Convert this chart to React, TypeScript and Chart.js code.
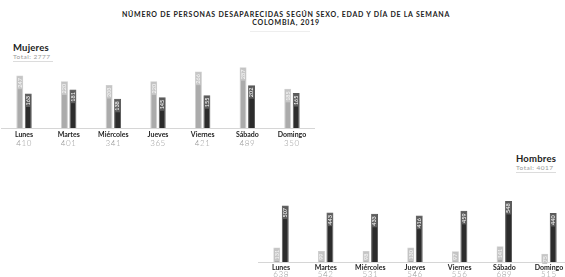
import { useEffect, useRef } from 'react';
import { Chart, registerables } from 'chart.js';

Chart.register(...registerables);

const days = ['Lunes', 'Martes', 'Miércoles', 'Jueves', 'Viernes', 'Sábado', 'Domingo'];

const mujeresTotal = [410, 401, 341, 365, 421, 489, 350];
const mujeresLight = [247, 220, 203, 220, 266, 287, 185];
const mujeresDark = [163, 181, 138, 145, 155, 202, 165];

const hombresTotal = [638, 542, 531, 546, 556, 689, 515];
const hombresLight = [131, 99, 98, 130, 97, 141, 75];
const hombresDark = [507, 443, 433, 416, 459, 548, 440];

const FONT = 'Lato, "Open Sans", "DejaVu Sans", sans-serif';

type PanelProps = {
  left: number;
  top: number;
  width: number;
  height: number;
  padLeft: number;
  padRight: number;
  yMax: number;
  totalsOffset: number;
  labelPad: number;
  light: number[];
  dark: number[];
  totals: number[];
};

function BarPanel(p: PanelProps) {
  const ref = useRef<HTMLCanvasElement | null>(null);
  useEffect(() => {
    if (!ref.current) return;
    const barLabels = {
      id: 'barLabels',
      afterDatasetsDraw(chart: any) {
        const ctx = chart.ctx;
        chart.data.datasets.forEach((ds: any, di: number) => {
          const meta = chart.getDatasetMeta(di);
          meta.data.forEach((bar: any, i: number) => {
            const { x, y, width } = bar.getProps(['x', 'y', 'width'], true);
            const text = String(ds.data[i]);
            ctx.save();
            ctx.font = `600 5.5px ${FONT}`;
            const tw = ctx.measureText(text).width;
            const bw = width - 2;
            ctx.fillStyle = di === 0 ? '#c6c6c6' : '#5c5c5c';
            ctx.fillRect(x - bw / 2, y + 1, bw, tw + 3);
            ctx.translate(x, y + 2.5);
            ctx.rotate(-Math.PI / 2);
            ctx.fillStyle = '#f4f4f4';
            ctx.textAlign = 'right';
            ctx.textBaseline = 'middle';
            ctx.fillText(text, 0, 0);
            ctx.restore();
          });
        });
      },
    };
    const totalsPlugin = {
      id: 'totalsRow',
      afterDraw(chart: any) {
        const ctx = chart.ctx;
        const xs = chart.scales.x;
        ctx.save();
        ctx.font = `300 8px ${FONT}`;
        ctx.fillStyle = '#999999';
        ctx.textAlign = 'center';
        ctx.textBaseline = 'middle';
        (ctx as any).letterSpacing = '0.6px';
        p.totals.forEach((t, i) => {
          ctx.fillText(String(t), xs.getPixelForValue(i), chart.chartArea.bottom + p.totalsOffset);
        });
        ctx.restore();
      },
    };
    const chart = new Chart(ref.current, {
      type: 'bar',
      data: {
        labels: days,
        datasets: [
          {
            data: p.light,
            backgroundColor: '#ababab',
            borderColor: '#cfcfcf',
            borderWidth: 1,
            categoryPercentage: 0.38,
            barPercentage: 0.82,
          },
          {
            data: p.dark,
            backgroundColor: '#2c2c2c',
            borderColor: '#5a5a5a',
            borderWidth: 1,
            categoryPercentage: 0.38,
            barPercentage: 0.82,
          },
        ],
      },
      options: {
        animation: false,
        responsive: false,
        maintainAspectRatio: false,
        layout: { padding: { left: p.padLeft, right: p.padRight, top: 0, bottom: 0 } },
        plugins: { legend: { display: false }, tooltip: { enabled: false }, title: { display: false } },
        scales: {
          x: {
            grid: { display: false, drawTicks: false },
            border: { display: true, color: '#d6d6d6', width: 1 },
            ticks: {
              padding: p.labelPad,
              color: '#1e1e1e',
              font: { family: FONT, size: 7, weight: 'bold' },
              maxRotation: 0,
              autoSkip: false,
            },
            afterFit: (scale: any) => {
              scale.height = 22;
            },
          },
          y: {
            display: false,
            min: 0,
            max: p.yMax,
          },
        },
      },
      plugins: [barLabels, totalsPlugin],
    } as any);
    return () => chart.destroy();
  }, []);
  return (
    <canvas
      ref={ref}
      width={p.width}
      height={p.height}
      style={{ position: 'absolute', left: p.left, top: p.top, width: p.width, height: p.height }}
    />
  );
}

export default function App() {
  return (
    <div
      style={{
        position: 'fixed',
        left: 0,
        top: 0,
        width: 565,
        height: 277,
        overflow: 'hidden',
        background: '#fff',
        fontFamily: FONT,
      }}
    >
      <div
        style={{
          position: 'absolute',
          left: 0,
          top: 11,
          width: 572,
          textAlign: 'center',
          fontSize: 7,
          lineHeight: '7.5px',
          fontWeight: 700,
          letterSpacing: 0.75,
          color: '#222',
        }}
      >
        <div>NÚMERO DE PERSONAS DESAPARECIDAS SEGÚN SEXO, EDAD Y DÍA DE LA SEMANA</div>
        <div>COLOMBIA, 2019</div>
      </div>
      <div style={{ position: 'absolute', left: 250, top: 31, width: 60, height: 1, background: '#eeeeee' }} />

      <div style={{ position: 'absolute', left: 13, top: 42, fontSize: 9.5, fontWeight: 700, color: '#222', letterSpacing: 0.2 }}>Mujeres</div>
      <div style={{ position: 'absolute', left: 13, top: 53, fontSize: 6.5, color: '#999', letterSpacing: 0.5 }}>Total: 2777</div>
      <div style={{ position: 'absolute', left: 13, top: 61, width: 40, height: 1, background: '#dcdcdc' }} />

      <div style={{ position: 'absolute', left: 516, top: 153, fontSize: 9.5, fontWeight: 700, color: '#222', letterSpacing: 0.2 }}>Hombres</div>
      <div style={{ position: 'absolute', left: 516, top: 164, fontSize: 6.5, color: '#999', letterSpacing: 0.5 }}>Total: 4017</div>
      <div style={{ position: 'absolute', left: 516, top: 172, width: 40, height: 1, background: '#dcdcdc' }} />

      <BarPanel
        left={0}
        top={40}
        width={320}
        height={110}
        padLeft={1.7}
        padRight={5.7}
        yMax={415}
        totalsOffset={15}
        labelPad={2.5}
        light={mujeresLight}
        dark={mujeresDark}
        totals={mujeresTotal}
      />
      <BarPanel
        left={250}
        top={170}
        width={330}
        height={114}
        padLeft={8.7}
        padRight={8.7}
        yMax={825}
        totalsOffset={12.5}
        labelPad={1.5}
        light={hombresLight}
        dark={hombresDark}
        totals={hombresTotal}
      />
    </div>
  );
}
